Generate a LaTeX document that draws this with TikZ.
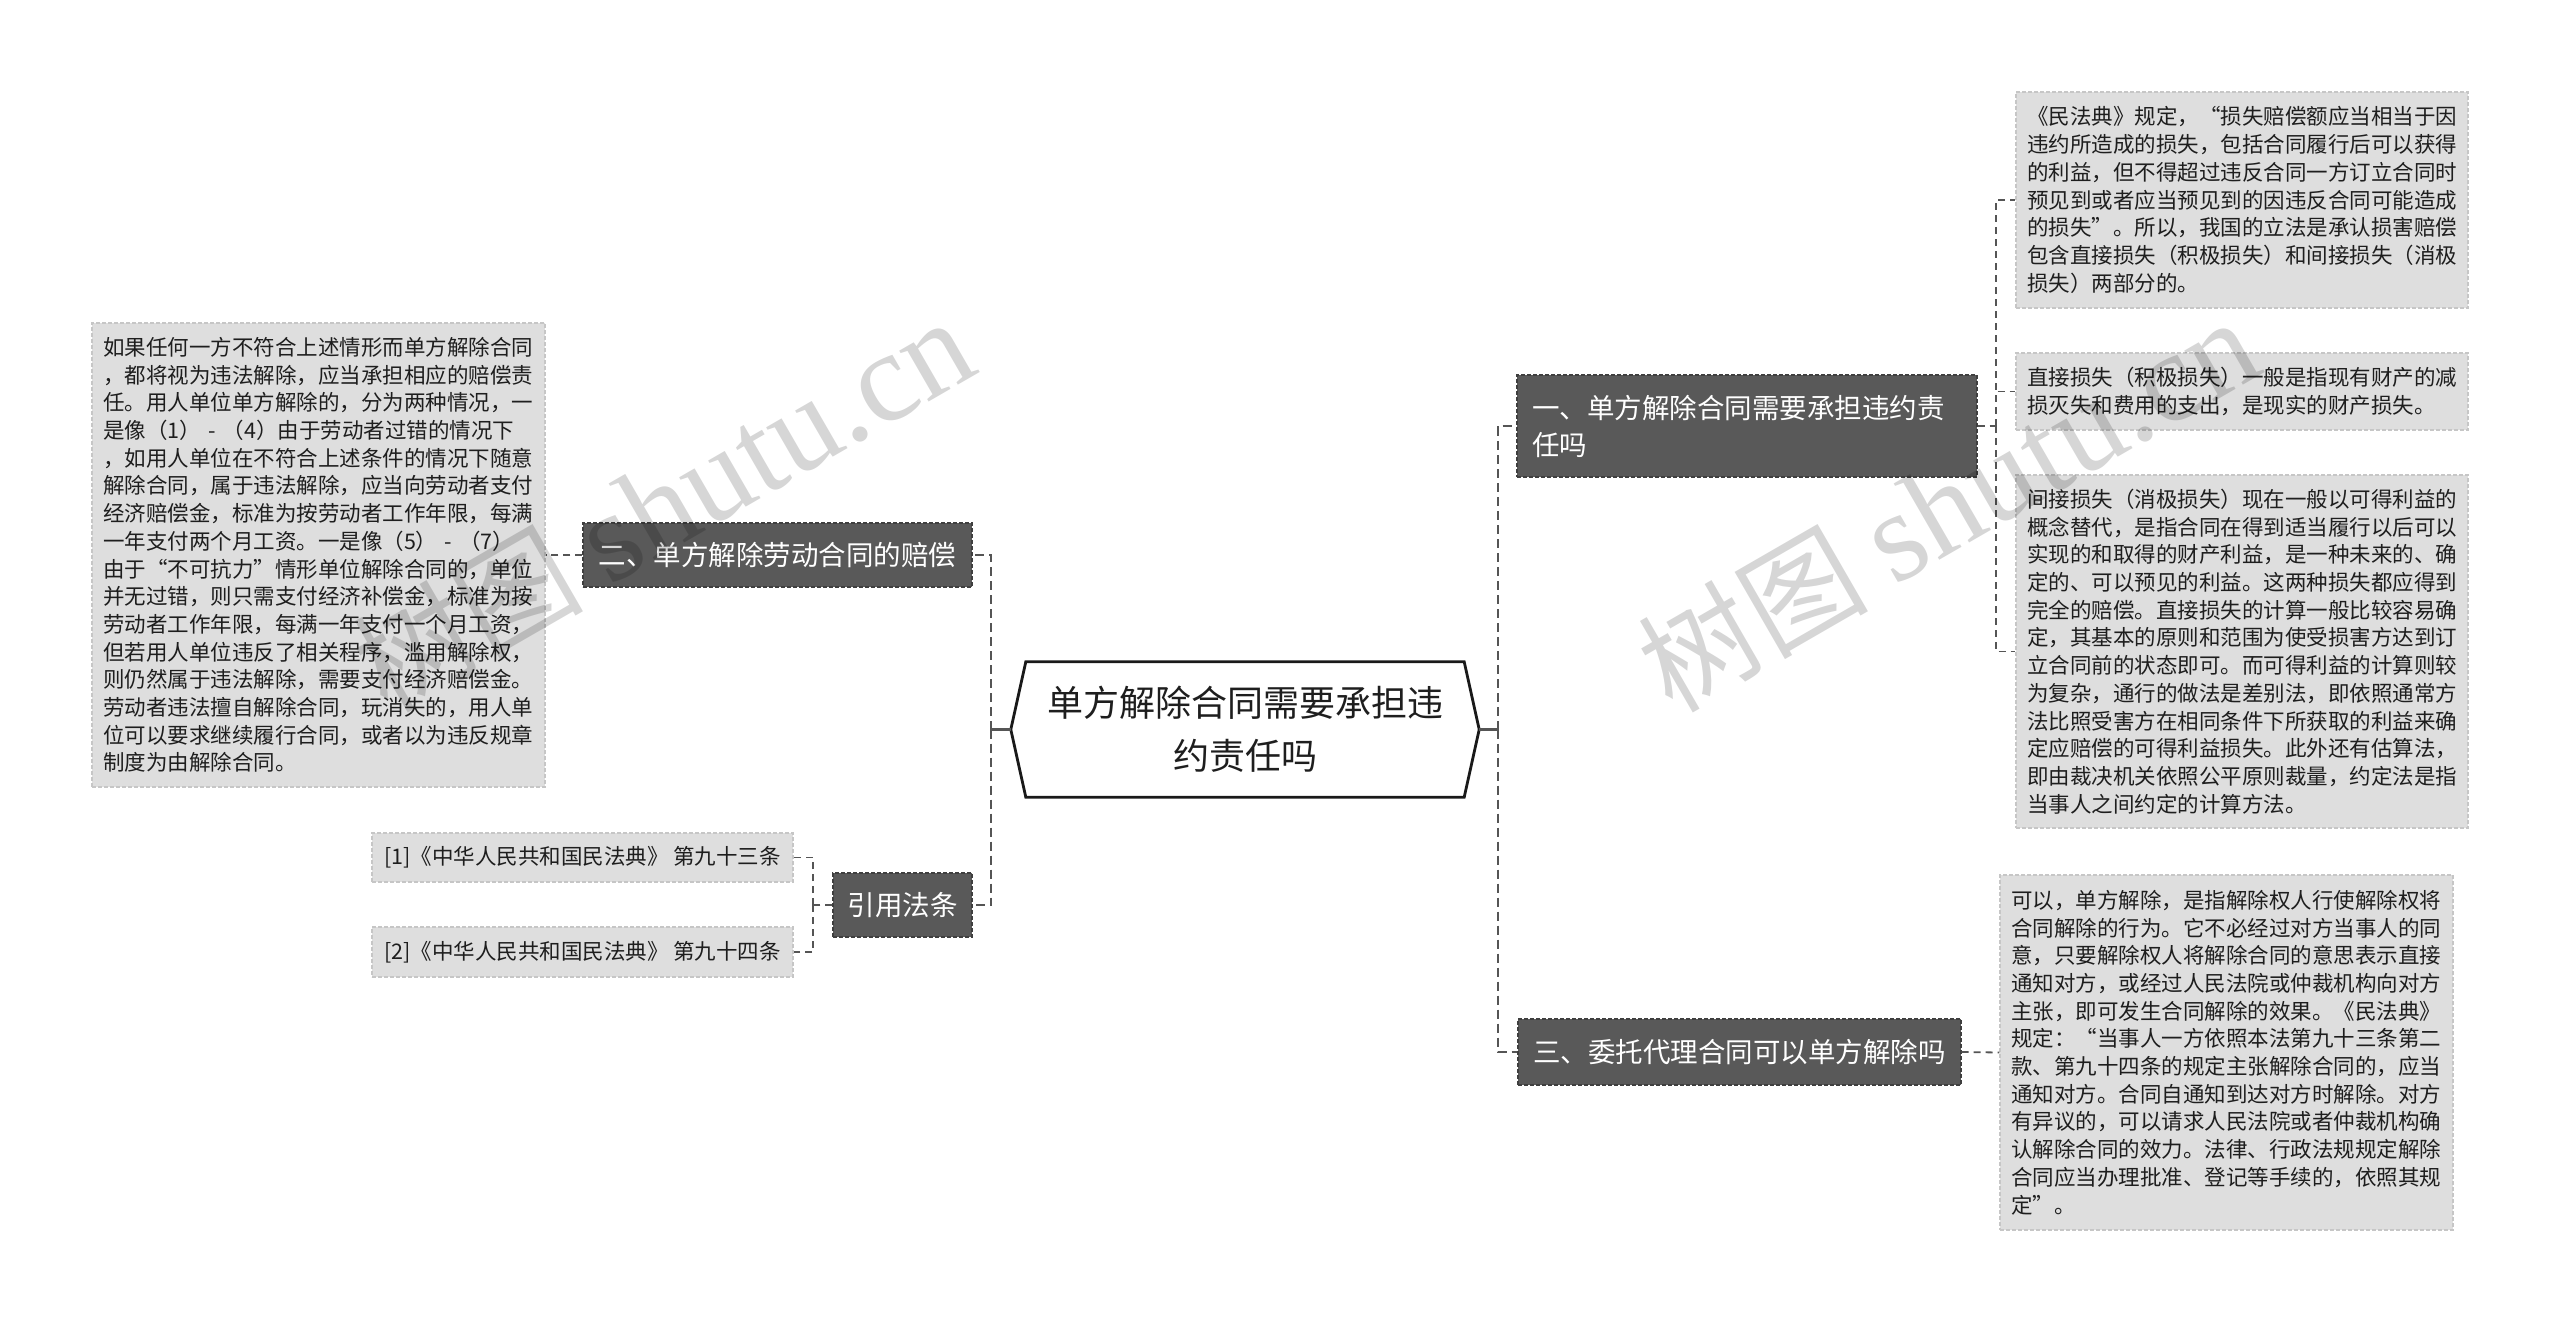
\documentclass[tikz,border=0pt]{standalone}
\usepackage{fontspec}
\setmainfont{Noto Sans CJK SC}
\newfontfamily\wmlatin{Liberation Serif}
\usetikzlibrary{calc}
\definecolor{darkbox}{HTML}{595959}
\definecolor{darkedge}{HTML}{3F3F3F}
\definecolor{leaffill}{HTML}{DEDEDE}
\definecolor{leafedge}{HTML}{C6C6C6}
\definecolor{linec}{HTML}{555555}
\definecolor{txt}{HTML}{1E1E1E}
\tikzset{
 branchbox/.style={fill=darkbox, draw=darkedge, line width=1.2pt, dash pattern=on 4pt off 2pt, text=white, font=\fontsize{27.5}{37}\selectfont, inner sep=0pt, align=left},
 leafbox/.style={fill=leaffill, draw=leafedge, line width=1.2pt, dash pattern=on 4pt off 2pt, text=txt, font=\fontsize{21.5}{27.7}\selectfont, inner xsep=11pt, inner ysep=0pt, align=left},
 citebox/.style={fill=leaffill, draw=leafedge, line width=1.2pt, dash pattern=on 4pt off 2pt, text=txt, font=\fontsize{21.5}{27.7}\selectfont, inner sep=0pt},
 mainconn/.style={draw=linec, line width=2.7pt, dash pattern=on 9pt off 5pt},
 subconn/.style={draw=linec, line width=1.8pt, dash pattern=on 7pt off 5pt},
 rootstub/.style={draw=linec, line width=3pt},
 rootline/.style={draw=black!90, line width=2.8pt, fill=white, line join=miter},
 wm/.style={text=black, text opacity=0.16, font=\fontsize{115}{115}\selectfont, rotate=30}
}
\begin{document}
\begin{tikzpicture}[x=1pt,y=-1pt]
\fill[white] (0,0) rectangle (2560,1321);
\useasboundingbox (0,0) rectangle (2560,1321);

% root
\node[inner sep=0pt, minimum width=468pt, minimum height=135pt] (root) at (1245,729.5) {};
\draw[rootline] (root.west) -- ([xshift=15pt]root.north west) -- ([xshift=-15pt]root.north east) -- (root.east) -- ([xshift=-15pt]root.south east) -- ([xshift=15pt]root.south west) -- cycle;
\node[align=center, font=\fontsize{36}{53}\selectfont, text=txt, inner sep=0pt] (roottext) at (root.center) {单方解除合同需要承担违\\约责任吗};

% branches
\node[branchbox, text width=430pt, inner xsep=15pt, minimum height=102pt] (b1) at (1747,426) {一、单方解除合同需要承担违约责\\任吗};
\node[branchbox, minimum width=389pt, minimum height=64pt] (b2) at (777.5,555) {二、单方解除劳动合同的赔偿};
\node[branchbox, minimum width=443pt, minimum height=66pt] (b3) at (1739.5,1052) {三、委托代理合同可以单方解除吗};
\node[branchbox, minimum width=139pt, minimum height=64pt] (b4) at (902.5,905) {引用法条};

% leaves right (branch 1)
\node[leafbox, text width=430pt, minimum height=216pt] (l1) at (2242,200) {《民法典》规定，“损失赔偿额应当相当于因\\违约所造成的损失，包括合同履行后可以获得\\的利益，但不得超过违反合同一方订立合同时\\预见到或者应当预见到的因违反合同可能造成\\的损失”。所以，我国的立法是承认损害赔偿\\包含直接损失（积极损失）和间接损失（消极\\损失）两部分的。};
\node[leafbox, text width=430pt, minimum height=77pt] (l2) at (2242,391.5) {直接损失（积极损失）一般是指现有财产的减\\损灭失和费用的支出，是现实的财产损失。};
\node[leafbox, text width=430pt, minimum height=353pt] (l3) at (2242,651.5) {间接损失（消极损失）现在一般以可得利益的\\概念替代，是指合同在得到适当履行以后可以\\实现的和取得的财产利益，是一种未来的、确\\定的、可以预见的利益。这两种损失都应得到\\完全的赔偿。直接损失的计算一般比较容易确\\定，其基本的原则和范围为使受损害方达到订\\立合同前的状态即可。而可得利益的计算则较\\为复杂，通行的做法是差别法，即依照通常方\\法比照受害方在相同条件下所获取的利益来确\\定应赔偿的可得利益损失。此外还有估算法，\\即由裁决机关依照公平原则裁量，约定法是指\\当事人之间约定的计算方法。};

% leaf branch 3
\node[leafbox, text width=431pt, minimum height=355pt] (l4) at (2226.5,1052.5) {可以，单方解除，是指解除权人行使解除权将\\合同解除的行为。它不必经过对方当事人的同\\意，只要解除权人将解除合同的意思表示直接\\通知对方，或经过人民法院或仲裁机构向对方\\主张，即可发生合同解除的效果。《民法典》\\规定：“当事人一方依照本法第九十三条第二\\款、第九十四条的规定主张解除合同的，应当\\通知对方。合同自通知到达对方时解除。对方\\有异议的，可以请求人民法院或者仲裁机构确\\认解除合同的效力。法律、行政法规规定解除\\合同应当办理批准、登记等手续的，依照其规\\定”。};

% leaf branch 2
\node[leafbox, text width=431pt, minimum height=464pt] (l5) at (318.5,555) {如果任何一方不符合上述情形而单方解除合同\\，都将视为违法解除，应当承担相应的赔偿责\\任。用人单位单方解除的，分为两种情况，一\\是像（1） - （4）由于劳动者过错的情况下\\，如用人单位在不符合上述条件的情况下随意\\解除合同，属于违法解除，应当向劳动者支付\\经济赔偿金，标准为按劳动者工作年限，每满\\一年支付两个月工资。一是像（5） - （7）\\由于“不可抗力”情形单位解除合同的，单位\\并无过错，则只需支付经济补偿金，标准为按\\劳动者工作年限，每满一年支付一个月工资，\\但若用人单位违反了相关程序，滥用解除权，\\则仍然属于违法解除，需要支付经济赔偿金。\\劳动者违法擅自解除合同，玩消失的，用人单\\位可以要求继续履行合同，或者以为违反规章\\制度为由解除合同。};

% citations
\node[citebox, minimum width=421pt, minimum height=49pt] (c1) at (582.5,857.5) {[1]《中华人民共和国民法典》 第九十三条};
\node[citebox, minimum width=421pt, minimum height=50pt] (c2) at (582.5,952) {[2]《中华人民共和国民法典》 第九十四条};

% connectors root
\coordinate (rt) at (1498,729.5);
\coordinate (lt) at (991,729.5);
\draw[rootstub] (root.east) -- (rt);
\draw[rootstub] (root.west) -- (lt);
\draw[mainconn] (rt) |- (b1.west);
\draw[mainconn] (rt) |- (b3.west);
\draw[mainconn] (lt) |- (b2.east);
\draw[mainconn] (lt) |- (b4.east);

% connectors to leaves
\coordinate (t1) at (1996,426);
\draw[subconn] (b1.east) -- (t1);
\draw[subconn] (t1) |- (l1.west);
\draw[subconn] (t1) |- (l2.west);
\draw[subconn] (t1) |- (l3.west);
\draw[subconn] (b3.east) -- (l4.west);
\draw[subconn] (b2.west) -- (l5.east);
\coordinate (t4) at (813,905);
\draw[subconn] (b4.west) -- (t4);
\draw[subconn] (t4) |- (c1.east);
\draw[subconn] (t4) |- (c2.east);

% watermarks
\node[wm] (wm1) at (663,505) {树图 {\wmlatin\fontsize{128}{128}\selectfont shutu.cn}};
\node[wm] (wm2) at (1948,505) {树图 {\wmlatin\fontsize{128}{128}\selectfont shutu.cn}};
\end{tikzpicture}
\end{document}
